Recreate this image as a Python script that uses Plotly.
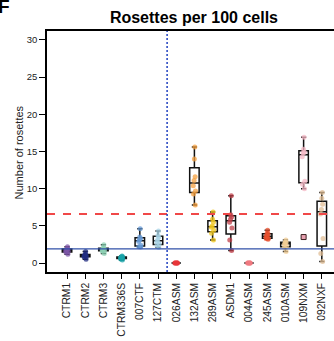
import plotly.graph_objects as go

# Sample groups in plotting order
groups = ["CTRM1", "CTRM2", "CTRM3", "CTRM336S", "007CTF", "127CTM",
          "026ASM", "132ASM", "289ASM", "ASDM1", "004ASM", "245ASM",
          "010ASM", "109NXM", "092NXF"]

# Rosettes per 100 cells, one list per line
ctrm1 = [1.2, 1.45, 1.55, 1.65, 1.75, 1.85, 1.95, 2.2]
ctrm2 = [0.5, 0.8, 0.9, 0.95, 1.05, 1.1, 1.2, 1.55]
ctrm3 = [1.3, 1.6, 1.7, 1.75, 1.85, 1.95, 2.05, 2.45]
ctrm336s = [0.4, 0.55, 0.65, 0.7, 0.72, 0.8, 0.85, 0.95]
ctf007 = [2.15, 2.2, 2.4, 2.9, 3.1, 3.3, 3.5, 4.6]
ctm127 = [2.1, 2.4, 2.6, 2.9, 3.1, 3.5, 3.7, 4.3]
asm026 = [0, 0, 0, 0, 0, 0]
asm132 = [7.8, 9.3, 9.7, 10.4, 11.1, 11.6, 14.0, 15.6]
asm289 = [3.1, 4.0, 4.4, 4.8, 5.0, 5.5, 5.9, 6.85]
asdm1 = [1.7, 3.1, 4.7, 5.5, 5.9, 6.2, 6.5, 9.05]
asm004 = [0, 0, 0, 0, 0, 0]
asm245 = [3.2, 3.3, 3.35, 3.5, 3.7, 3.9, 4.0, 4.4]
asm010 = [1.56, 2.1, 2.3, 2.5, 2.7, 2.75, 2.85, 3.1]
nxm109 = [10.0, 10.6, 11.0, 14.3, 14.8, 14.9, 15.3, 16.9]
nxf092 = [0.2, 1.3, 3.3, 6.6, 7.2, 7.9, 8.7, 9.5]

group_values = [ctrm1, ctrm2, ctrm3, ctrm336s, ctf007, ctm127, asm026, asm132,
                asm289, asdm1, asm004, asm245, asm010, nxm109, nxf092]

colors = ["#7E57A8", "#232D82", "#8ED1B4", "#17A3A8", "#6699D5", "#A8D3E6",
          "#E8353A", "#F4A040", "#EFC51C", "#C0404A", "#F07A80", "#E8502E",
          "#F2CE96", "#F6B8C6", "#E0BE96"]

# Extra single marker drawn at 109NXM
extra_group = ["109NXM"]
extra_value = [3.5]

control_level = 1.9
threshold_level = 6.6
ticks_y = [0, 5, 10, 15, 20, 25, 30]

FONT = "Liberation Sans, Arial, sans-serif"

fig = go.Figure()
for name, vals, col in zip(groups, group_values, colors):
    fig.add_trace(go.Box(
        x=[name] * len(vals), y=vals, name=name,
        boxpoints="all", jitter=0.35, pointpos=0, width=0.52,
        fillcolor="rgba(255,255,255,0)",
        line=dict(color="#111111", width=1.5),
        whiskerwidth=0.55,
        marker=dict(color=col, size=5, opacity=0.75, line=dict(width=0)),
        showlegend=False, hoverinfo="skip",
    ))

fig.add_trace(go.Scatter(
    x=extra_group, y=extra_value, mode="markers",
    marker=dict(symbol="square", size=5, color="#E8A0B0",
                line=dict(color="#3A2020", width=1)),
    showlegend=False, hoverinfo="skip",
))

# Reference levels and the control / patient divider
fig.add_shape(type="line", xref="paper", x0=0, x1=1, yref="y",
              y0=threshold_level, y1=threshold_level,
              line=dict(color="#F04848", width=2, dash="8px,8px"))
fig.add_shape(type="line", xref="paper", x0=0, x1=1, yref="y",
              y0=control_level, y1=control_level,
              line=dict(color="#3050A8", width=1.3))
fig.add_shape(type="line", xref="x", x0=5.5, x1=5.5, yref="paper",
              y0=0, y1=1,
              line=dict(color="#2040C0", width=1.5, dash="2px,2px"))

fig.add_annotation(text="Number of rosettes", xref="paper", yref="paper",
                   x=-0.0976, y=0.496, xanchor="center", yanchor="middle",
                   textangle=-90, showarrow=False,
                   font=dict(family=FONT, size=11, color="#222222"))
fig.add_annotation(text="<b>F</b>", xref="paper", yref="paper",
                   x=-0.178, y=1.155, xanchor="left", yanchor="top",
                   showarrow=False, font=dict(family=FONT, size=19, color="black"))

fig.update_layout(
    width=334, height=341,
    margin=dict(l=47, r=0, t=31, b=69),
    paper_bgcolor="white", plot_bgcolor="white",
    font=dict(family=FONT, color="#222222"),
    title=dict(text="<b>Rosettes per 100 cells</b>", xref="paper", x=0.512,
               xanchor="center", yref="container", y=1 - 17.8 / 341,
               yanchor="middle", font=dict(family=FONT, size=16, color="black")),
    boxmode="overlay",
)
fig.update_xaxes(
    type="category", categoryorder="array", categoryarray=groups,
    range=[-1.1, 14.67], showgrid=False, zeroline=False,
    showline=True, linecolor="black", linewidth=1.5, mirror=True,
    ticks="outside", ticklen=5, tickwidth=1, tickcolor="black",
    tickangle=-90, tickfont=dict(family=FONT, size=10.3, color="#222222"),
)
fig.update_yaxes(
    range=[-1.2, 31.2], tickvals=ticks_y, showgrid=False, zeroline=False,
    showline=True, linecolor="black", linewidth=1.5,
    ticks="outside", ticklen=6, tickwidth=1, tickcolor="black",
    tickfont=dict(family=FONT, size=9.5, color="#222222"),
)

fig.write_html("out.html")
